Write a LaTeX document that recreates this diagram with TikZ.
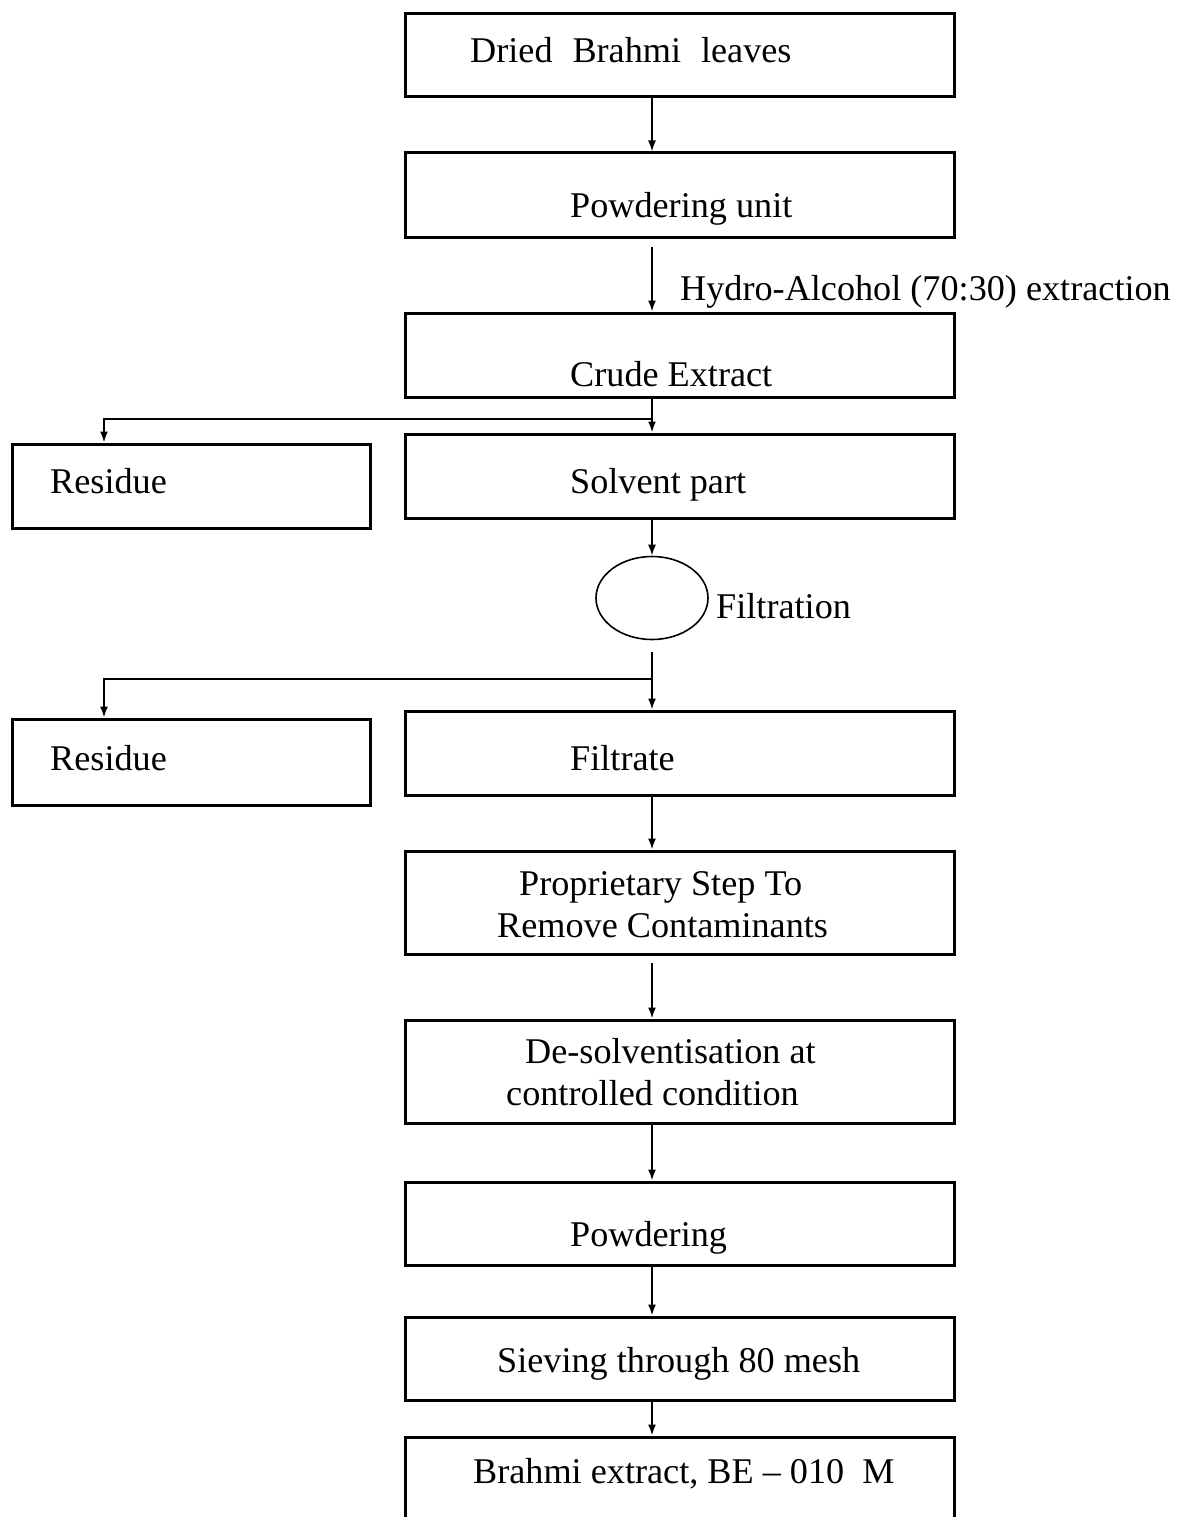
\documentclass[tikz,border=0pt]{standalone}
\usepackage{fontspec}
\setmainfont{Liberation Serif}
\usetikzlibrary{arrows.meta,shapes.geometric}
\begin{document}
\begin{tikzpicture}[x=1pt,y=-1pt,
  box/.style={draw,line width=3pt,minimum width=549pt,inner sep=0pt},
  sidebox/.style={draw,line width=3pt,minimum width=358pt,inner sep=0pt},
  lbl/.style={inner sep=0pt,anchor=base west,font=\fontsize{36.2}{43}\selectfont},
  conn/.style={line width=1.8pt,-{Latex[length=11pt,width=8pt]}},
  plain/.style={line width=1.8pt}]
\useasboundingbox (0,0) rectangle (1178,1517);
\clip (0,0) rectangle (1178,1517);
\fill[white] (0,0) rectangle (1178,1517);
\coordinate (ax) at (652,0);
\coordinate (rx) at (104,0);
% main boxes
\node[box,minimum height=83pt] (b1) at (679.5,55.5) {};
\node[box,minimum height=84pt] (b2) at (679.5,195) {};
\node[box,minimum height=84pt] (b3) at (679.5,355) {};
\node[box,minimum height=84pt] (sp) at (679.5,476) {};
\node[box,minimum height=84pt] (ft) at (679.5,753) {};
\node[box,minimum height=103pt] (pr) at (679.5,902.5) {};
\node[box,minimum height=103pt] (ds) at (679.5,1071.5) {};
\node[box,minimum height=83pt] (pw) at (679.5,1223.5) {};
\node[box,minimum height=83pt] (sv) at (679.5,1358.5) {};
\node[box,minimum height=100pt] (be) at (679.5,1487) {};
% side boxes
\node[sidebox,minimum height=84pt] (r1) at (191,486) {};
\node[sidebox,minimum height=86pt] (r2) at (191,762) {};
% filtration ellipse
\node[draw,ellipse,line width=1.6pt,minimum width=112pt,minimum height=83pt,inner sep=0pt] (el) at (652,598) {};
% texts
\node[lbl] (t1) at (470,63) {Dried\hspace{0.55em}Brahmi\hspace{0.55em}leaves};
\node[lbl] (t2) at (570,217) {Powdering unit};
\node[lbl] (t2a) at (680,300) {Hydro-Alcohol (70:30) extraction};
\node[lbl] (t3) at (570,386) {Crude Extract};
\node[lbl] (t4) at (570,493) {Solvent part};
\node[lbl] (tr1) at (50,493) {Residue};
\node[lbl] (tf) at (716,618) {Filtration};
\node[lbl] (tr2) at (50,770) {Residue};
\node[lbl] (t5) at (570,770) {Filtrate};
\node[lbl] (t6a) at (519,895) {Proprietary Step To};
\node[lbl] (t6b) at (497,937) {Remove Contaminants};
\node[lbl] (t7a) at (525,1063) {De-solventisation at};
\node[lbl] (t7b) at (506,1105) {controlled condition};
\node[lbl] (t8) at (570,1246) {Powdering};
\node[lbl] (t9) at (497,1372) {Sieving through 80 mesh};
\node[lbl] (t10) at (473,1483) {Brahmi extract, BE -- 010\hspace{0.5em}M};
% connectors
\coordinate (a2s) at (652,247);
\coordinate (j1) at (652,419);
\coordinate (a4s) at (652,652);
\coordinate (j2) at (652,679);
\coordinate (a6s) at (652,963);
\draw[conn] (b1.south -| ax) -- (b2.north -| ax);
\draw[conn] (a2s) -- (b3.north -| ax);
\draw[conn] (b3.south -| ax) -- (sp.north -| ax);
\draw[conn] (j1) -- (j1 -| rx) -- (r1.north -| rx);
\draw[conn] (sp.south -| ax) -- (el.north);
\draw[conn] (a4s) -- (ft.north -| ax);
\draw[conn] (j2) -- (j2 -| rx) -- (r2.north -| rx);
\draw[conn] (ft.south -| ax) -- (pr.north -| ax);
\draw[conn] (a6s) -- (ds.north -| ax);
\draw[conn] (ds.south -| ax) -- (pw.north -| ax);
\draw[conn] (pw.south -| ax) -- (sv.north -| ax);
\draw[conn] (sv.south -| ax) -- (be.north -| ax);
\end{tikzpicture}
\end{document}
